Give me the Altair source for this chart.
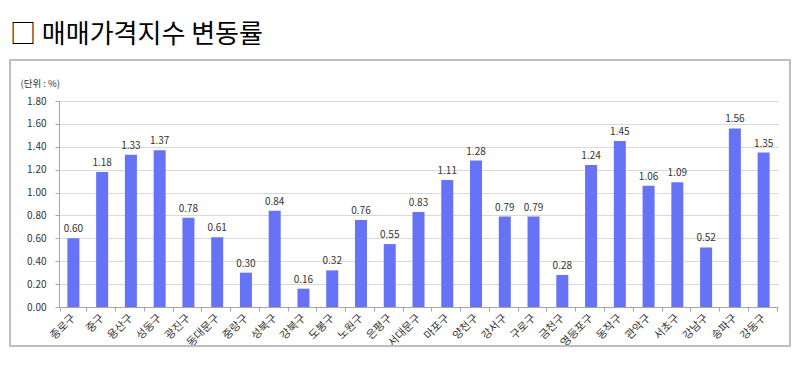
import altair as alt
import pandas as pd

districts = ["종로구", "중구", "용산구", "성동구", "광진구", "동대문구", "중랑구", "성북구",
             "강북구", "도봉구", "노원구", "은평구", "서대문구", "마포구", "양천구", "강서구",
             "구로구", "금천구", "영등포구", "동작구", "관악구", "서초구", "강남구", "송파구", "강동구"]
values = [0.60, 1.18, 1.33, 1.37, 0.78, 0.61, 0.30, 0.84, 0.16, 0.32, 0.76, 0.55, 0.83,
          1.11, 1.28, 0.79, 0.79, 0.28, 1.24, 1.45, 1.06, 1.09, 0.52, 1.56, 1.35]
y_ticks = [0.0, 0.2, 0.4, 0.6, 0.8, 1.0, 1.2, 1.4, 1.6, 1.8]

df = pd.DataFrame({"district": districts, "value": values})
df["label"] = df["value"].map(lambda v: f"{v:.2f}")

FONT = "Noto Sans CJK KR"
W, H = 719, 206

x_enc = alt.X("district:N", sort=districts, title=None,
              axis=alt.Axis(labelAngle=-45, labelAlign="right", labelBaseline="middle",
                            labelFontSize=11, labelColor="#333333", labelPadding=5,
                            labelOverlap=False,
                            tickBand="extent", tickSize=4, tickColor="#a6a6a6",
                            domainColor="#a6a6a6", labelFont=FONT))
y_enc = alt.Y("value:Q", scale=alt.Scale(domain=[0, 1.8], nice=False),
              axis=alt.Axis(values=y_ticks, tickCount=10, format=".2f", title="(단위 : %)",
                            titleAngle=0, titleAlign="left", titleBaseline="middle",
                            titleX=-39, titleY=-18, titleFontSize=9.5,
                            titleFontWeight="normal", titleColor="#333333", titleFont=FONT,
                            labelFontSize=10, labelColor="#333333", labelPadding=9,
                            labelOverlap=False,
                            labelFont=FONT, tickSize=4, tickColor="#a6a6a6",
                            domainColor="#a6a6a6", gridColor="#d9d9d9"))

base = alt.Chart(df).encode(x=x_enc, y=y_enc)
bars = base.mark_bar(size=12, color="#6673f7")
labels = base.mark_text(dy=-9, fontSize=10, color="#333333", font=FONT).encode(text="label:N")

frame = alt.Chart(df).mark_rect(fill=None, stroke="#bfbfbf", strokeWidth=1.5).encode(
    x=alt.value(-49), x2=alt.value(731), y=alt.value(-41), y2=alt.value(245))

chart = alt.layer(frame, bars, labels).properties(
    width=W, height=H,
    padding={"left": 51, "top": 93, "right": 14, "bottom": 52},
    autosize=alt.AutoSizeParams(type="none"),
    title=alt.TitleParams("□   매매가격지수 변동률", anchor="start", frame="group",
                          fontSize=26, fontWeight="normal", font=FONT, color="#000000",
                          dx=-49, dy=10, offset=0, baseline="alphabetic"),
).configure_view(stroke=None)

chart.save("out.html", embed_options={"renderer": "svg", "actions": False})
